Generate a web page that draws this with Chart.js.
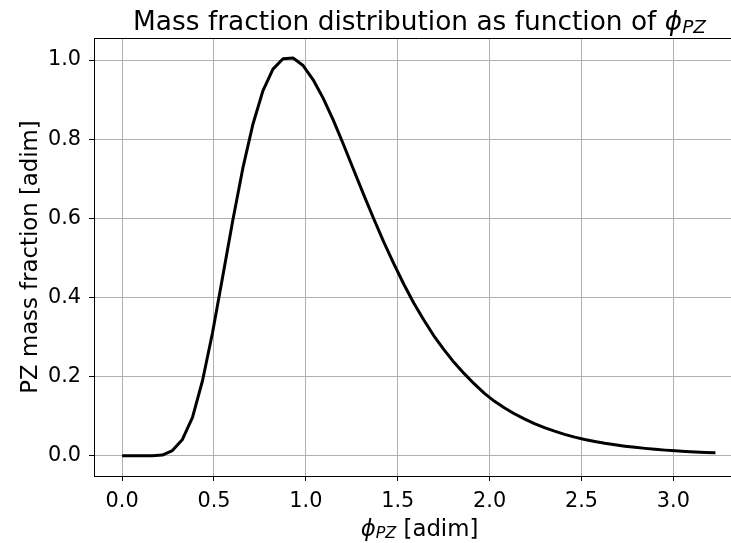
<!DOCTYPE html>
<html>
<head>
<meta charset="utf-8">
<script src="https://cdn.jsdelivr.net/npm/chart.js@4"></script>
<style>
html,body{margin:0;padding:0;background:#fff;overflow:hidden;width:731px;height:543px;}
canvas{display:block;}
</style>
</head>
<body>
<canvas id="c" width="760" height="543" style="width:760px;height:543px"></canvas>
<script>
const xValues = [0, 0.0547, 0.1095, 0.1642, 0.2189, 0.2736, 0.3284, 0.3831, 0.4378, 0.4926,
  0.5473, 0.6020, 0.6568, 0.7115, 0.7662, 0.8209, 0.8757, 0.9304, 0.9851, 1.0399,
  1.0946, 1.1493, 1.2041, 1.2588, 1.3135, 1.3682, 1.4230, 1.4777, 1.5324, 1.5872,
  1.6419, 1.6966, 1.7514, 1.8061, 1.8608, 1.9155, 1.9703, 2.0250, 2.0797, 2.1345,
  2.1892, 2.2439, 2.2987, 2.3534, 2.4081, 2.4628, 2.5176, 2.5723, 2.6270, 2.6818,
  2.7365, 2.7912, 2.8460, 2.9007, 2.9554, 3.0101, 3.0649, 3.1196, 3.1743, 3.2291];
const massFraction = [0, 0, 0, 0.0001, 0.0017, 0.013, 0.041, 0.097, 0.190, 0.312,
  0.452, 0.594, 0.726, 0.837, 0.922, 0.977, 1.003, 1.005, 0.986, 0.950,
  0.903, 0.848, 0.787, 0.724, 0.661, 0.600, 0.541, 0.486, 0.434, 0.386,
  0.343, 0.303, 0.268, 0.236, 0.208, 0.182, 0.158, 0.138, 0.121, 0.106,
  0.093, 0.081, 0.071, 0.062, 0.054, 0.047, 0.041, 0.036, 0.0315, 0.0276,
  0.0241, 0.0211, 0.0185, 0.0161, 0.0141, 0.0124, 0.0109, 0.0095, 0.0084, 0.0073];
const xTicks = [0, 0.5, 1.0, 1.5, 2.0, 2.5, 3.0];
const yTicks = [0, 0.2, 0.4, 0.6, 0.8, 1.0];

const FAM = "'DejaVu Sans'";

function drawMixed(ctx, parts, cx, baseline) {
  let total = 0;
  parts.forEach(p => { ctx.font = p.font; p.w = ctx.measureText(p.text).width; total += p.w; });
  let x = cx - total / 2;
  ctx.textAlign = 'left';
  ctx.textBaseline = 'alphabetic';
  parts.forEach(p => { ctx.font = p.font; ctx.fillText(p.text, x, baseline + (p.dy || 0)); x += p.w; });
}

const textPlugin = {
  id: 'texts',
  afterDraw(chart) {
    const ctx = chart.ctx;
    const a = chart.chartArea;
    ctx.save();
    // top & right spine
    ctx.strokeStyle = '#000';
    ctx.lineWidth = 1;
    ctx.beginPath();
    ctx.moveTo(a.left, a.top + 0.5); ctx.lineTo(a.right, a.top + 0.5);
    ctx.moveTo(a.right - 0.5, a.top); ctx.lineTo(a.right - 0.5, a.bottom);
    ctx.stroke();
    ctx.fillStyle = '#000';
    const cx = (a.left + a.right) / 2;
    // title
    const ts = 26.4;
    drawMixed(ctx, [
      {text: 'Mass fraction distribution as function of ', font: ts + 'px ' + FAM},
      {text: '\u03D5', font: 'italic ' + ts + 'px ' + FAM},
      {text: 'PZ', font: 'italic ' + (ts * 0.7) + 'px ' + FAM, dy: ts * 0.12}
    ], cx, 30);
    // x label
    const ls = 22.8;
    drawMixed(ctx, [
      {text: '\u03D5', font: 'italic ' + ls + 'px ' + FAM},
      {text: 'PZ', font: 'italic ' + (ls * 0.7) + 'px ' + FAM, dy: ls * 0.12},
      {text: ' [adim]', font: ls + 'px ' + FAM}
    ], cx, 535.5);
    // y label
    ctx.translate(37, (a.top + a.bottom) / 2);
    ctx.rotate(-Math.PI / 2);
    ctx.font = ls + 'px ' + FAM;
    ctx.textAlign = 'center';
    ctx.textBaseline = 'alphabetic';
    ctx.fillText('PZ mass fraction [adim]', 0, 0);
    ctx.restore();
  }
};

const bgPlugin = {
  id: 'bg',
  beforeDraw(chart) {
    const ctx = chart.ctx;
    ctx.save();
    ctx.fillStyle = '#fff';
    ctx.fillRect(0, 0, chart.width, chart.height);
    ctx.restore();
  }
};

new Chart(document.getElementById('c'), {
  type: 'line',
  data: {
    datasets: [{
      data: xValues.map((x, i) => ({x: x, y: massFraction[i]})),
      borderColor: '#000',
      borderWidth: 3,
      pointRadius: 0,
      tension: 0,
      fill: false,
      borderJoinStyle: 'round',
      borderCapStyle: 'butt'
    }]
  },
  options: {
    responsive: false,
    animation: false,
    events: [],
    layout: {padding: {left: 0, top: 38, right: 15, bottom: 0}},
    plugins: {legend: {display: false}, tooltip: {enabled: false}, title: {display: false}},
    scales: {
      x: {
        type: 'linear',
        min: -0.153,
        max: 3.39,
        afterBuildTicks: s => { s.ticks = xTicks.map(v => ({value: v})); },
        afterFit: s => { s.height = 67; },
        ticks: {
          callback: v => Number(v).toFixed(1),
          font: {family: 'DejaVu Sans', size: 20.8},
          color: '#000',
          padding: 8,
          maxRotation: 0,
          autoSkip: false
        },
        grid: {color: '#b0b0b0', lineWidth: 1, tickColor: '#000', tickLength: 5, tickWidth: 1},
        border: {color: '#000', width: 1}
      },
      y: {
        type: 'linear',
        min: -0.0513,
        max: 1.0556,
        afterBuildTicks: s => { s.ticks = yTicks.map(v => ({value: v})); },
        afterFit: s => { s.width = 94; },
        ticks: {
          callback: v => Number(v).toFixed(1),
          font: {family: 'DejaVu Sans', size: 20.8},
          color: '#000',
          padding: 8,
          autoSkip: false
        },
        grid: {color: '#b0b0b0', lineWidth: 1, tickColor: '#000', tickLength: 5, tickWidth: 1},
        border: {color: '#000', width: 1}
      }
    }
  },
  plugins: [bgPlugin, textPlugin]
});
</script>
</body>
</html>
